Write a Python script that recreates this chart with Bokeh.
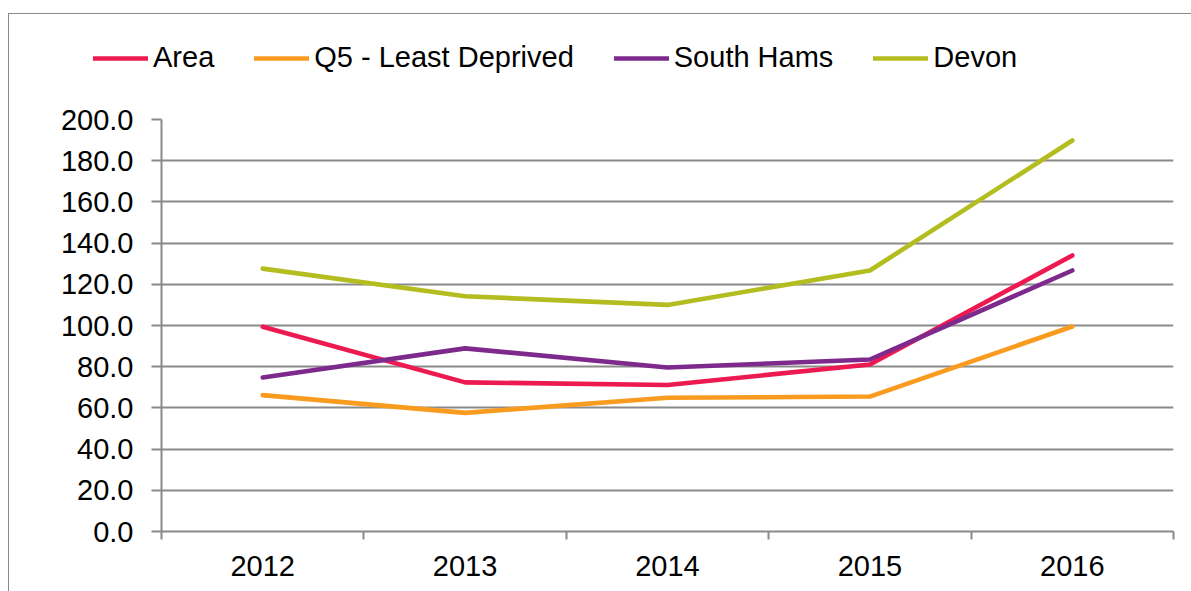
from bokeh.plotting import figure
from bokeh.layouts import column
from bokeh.models import Range1d, FixedTicker, NumeralTickFormatter, Legend, LegendItem
from bokeh.embed import file_html
from bokeh.resources import INLINE

years = ["2012", "2013", "2014", "2015", "2016"]
area = [99.4, 72.4, 71.1, 81.1, 134.0]
q5 = [66.2, 57.6, 64.9, 65.5, 99.5]
south_hams = [74.8, 88.9, 79.6, 83.5, 126.7]
devon = [127.6, 114.2, 110.0, 126.7, 189.8]

series_names = ["Area", "Q5 - Least Deprived", "South Hams", "Devon"]
series_values = [area, q5, south_hams, devon]
colors = ["#EC1A50", "#F99B1E", "#7E2A8D", "#B4BD1F"]

FONT = "Liberation Sans"
FS = "29px"
GRID = "#8a8a8a"
xs = [i + 0.5 for i in range(len(years))]

# legend strip (its proxy lines lie outside its visible range)
lg = figure(width=1183, height=85, output_backend="svg", toolbar_location=None,
            x_range=Range1d(100, 101), y_range=Range1d(0, 1),
            min_border_left=0, min_border_right=0, min_border_top=0, min_border_bottom=0)
lg.axis.visible = False
lg.grid.visible = False
lg.outline_line_color = None
lg.margin = 0
lg.frame_align = False

# main chart
p = figure(width=1183, height=493, output_backend="svg", toolbar_location=None,
           x_range=Range1d(0, len(years)), y_range=Range1d(0, 200),
           min_border_left=152, min_border_right=19, min_border_top=20, min_border_bottom=61)
p.margin = 0
p.outline_line_color = None
p.frame_align = False

items = []
for name, vals, col in zip(series_names, series_values, colors):
    p.line(xs, vals, line_color=col, line_width=4.6, line_cap="round", line_join="round")
    proxy = lg.line(xs, vals, line_color=col, line_width=4.6, line_cap="round")
    items.append(LegendItem(label=name, renderers=[proxy]))

legend = Legend(items=items, orientation="horizontal", location=(84, 25),
                glyph_width=55, glyph_height=30, label_standoff=5, spacing=40,
                padding=0, margin=0, border_line_color=None, background_fill_alpha=0,
                label_text_font=FONT, label_text_font_size=FS, label_text_color="black",
                label_height=30)
lg.add_layout(legend, "center")

# x axis
p.xaxis.ticker = FixedTicker(ticks=xs, minor_ticks=list(range(len(years) + 1)))
p.xaxis.major_label_overrides = {x: y for x, y in zip(xs, years)}
p.xaxis.major_tick_line_color = None
p.xaxis.major_tick_out = 0
p.xaxis.minor_tick_in = 0
p.xaxis.minor_tick_out = 8
p.xaxis.minor_tick_line_color = GRID
p.xaxis.minor_tick_line_width = 2
p.xaxis.axis_line_color = GRID
p.xaxis.axis_line_width = 2
p.xaxis.major_label_standoff = 16
p.xaxis.major_label_text_font = FONT
p.xaxis.major_label_text_font_size = FS
p.xaxis.major_label_text_color = "black"

# y axis
p.yaxis.ticker = FixedTicker(ticks=list(range(0, 201, 20)), minor_ticks=[])
p.yaxis.formatter = NumeralTickFormatter(format="0.0")
p.yaxis.major_tick_in = 0
p.yaxis.major_tick_out = 10
p.yaxis.major_tick_line_color = GRID
p.yaxis.major_tick_line_width = 2
p.yaxis.axis_line_color = GRID
p.yaxis.axis_line_width = 2
p.yaxis.major_label_standoff = 18
p.yaxis.major_label_text_font = FONT
p.yaxis.major_label_text_font_size = FS
p.yaxis.major_label_text_color = "black"

p.xgrid.grid_line_color = None
p.ygrid.ticker = FixedTicker(ticks=list(range(0, 201, 20)))
p.ygrid.grid_line_color = GRID
p.ygrid.grid_line_width = 2

layout = column(lg, p, spacing=0)
layout.margin = (13, 0, 0, 8)
layout.styles = {"border-left": "1px solid #8a8a8a", "border-top": "1px solid #8a8a8a"}

open("out.html", "w").write(file_html(layout, INLINE))
